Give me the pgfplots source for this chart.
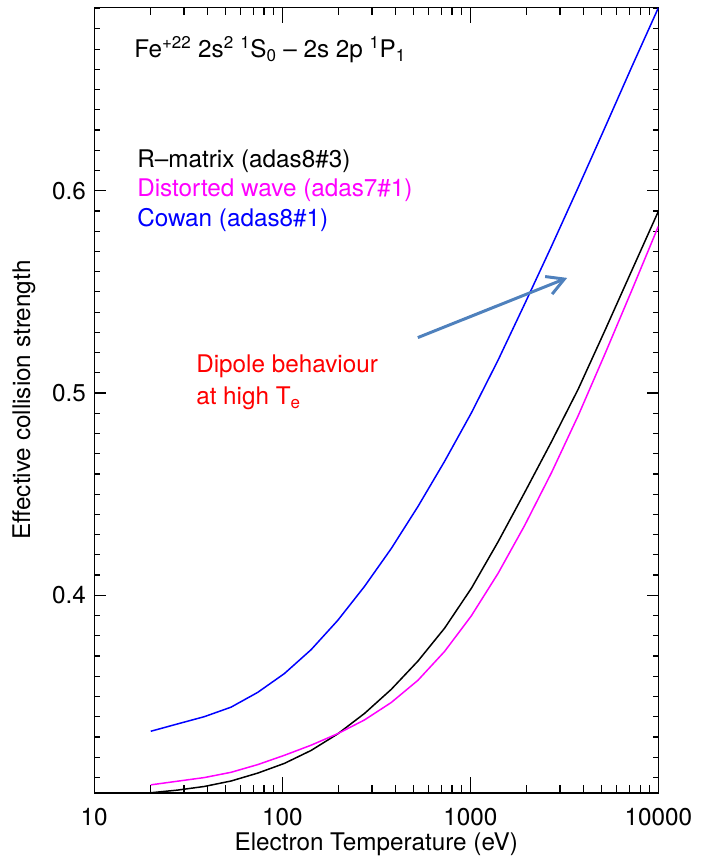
\documentclass[border=0pt]{standalone}
\usepackage{pgfplots}
\pgfplotsset{compat=1.18}
\usepackage{fontspec}
\setmainfont{TeX Gyre Heros}
\usetikzlibrary{arrows.meta}
\definecolor{arrowblue}{RGB}{79,129,189}
\definecolor{magentaline}{RGB}{255,0,255}
\pgfplotstableread{
T      rm      dw      cw
20     0.3024  0.3063  0.3328
27.7   0.3037  0.3081  0.3364
38.5   0.3055  0.3099  0.3400
53.4   0.3082  0.3125  0.3447
74.0   0.3121  0.3163  0.3520
102.6  0.3169  0.3209  0.3613
142.3  0.3233  0.3259  0.3731
197.3  0.3315  0.3316  0.3876
273.8  0.3416  0.3384  0.4044
379.8  0.3535  0.3470  0.4231
526.8  0.3675  0.3580  0.4439
730.7  0.3838  0.3723  0.4663
1013.6 0.4035  0.3899  0.4902
1406   0.4265  0.4109  0.5163
1950   0.4510  0.4347  0.5442
2705   0.4760  0.4607  0.5726
3752   0.5020  0.4889  0.6017
5205   0.5310  0.5194  0.6313
7220   0.5605  0.5507  0.6612
10000  0.5898  0.5824  0.6904
}\datatable
\begin{document}
\fontsize{24.5}{29}\selectfont
\begin{tikzpicture}[font=\fontsize{24.5}{29}\selectfont]
\begin{axis}[
  scale only axis, width=567bp, height=789.7bp,
  xmode=log, log basis x=10,
  xmin=10, xmax=10000, ymin=0.3023, ymax=0.6907,
  xtick={10,100,1000,10000}, xticklabels={10,100,1000,10000},
  minor xtick={20,30,40,50,60,70,80,90,200,300,400,500,600,700,800,900,2000,3000,4000,5000,6000,7000,8000,9000},
  ytick={0.4,0.5,0.6}, yticklabels={0.4,0.5,0.6},
  minor ytick={0.31,0.32,0.33,0.34,0.35,0.36,0.37,0.38,0.39,0.41,0.42,0.43,0.44,0.45,0.46,0.47,0.48,0.49,0.51,0.52,0.53,0.54,0.55,0.56,0.57,0.58,0.59,0.61,0.62,0.63,0.64,0.65,0.66,0.67,0.68,0.69},
  tick align=inside,
  xtick pos=both, ytick pos=both,
  major tick length=13bp, minor tick length=6.5bp,
  xtick style={/pgfplots/major tick length=16bp, /pgfplots/minor tick length=7.7bp},
  ytick style={/pgfplots/major tick length=11.5bp, /pgfplots/minor tick length=5.7bp},
  tick style={line width=1.2bp, black},
  axis line style={line width=1.3bp},
  /pgf/number format/assume math mode=true,
  xticklabel style={yshift=-7bp},
  xlabel={Electron Temperature (eV)},
  xlabel style={at={(axis description cs:0.5,-0.0734)}, anchor=base},
  ylabel={Effective collision strength},
  ylabel style={at={(axis description cs:-0.1247,0.5)}, anchor=center},
]
\addplot[black, line width=1.5bp] table[x=T, y=rm] {\datatable};
\addplot[magentaline, line width=1.5bp] table[x=T, y=dw] {\datatable};
\addplot[blue, line width=1.5bp] table[x=T, y=cw] {\datatable};
\node[anchor=base west, inner sep=0] at (axis cs:16.3,0.6658) {Fe\textsuperscript{+22} 2s\textsuperscript{2} \textsuperscript{1}S\textsubscript{0} -- 2s 2p \textsuperscript{1}P\textsubscript{1}};
\node[anchor=base west, inner sep=0, black] at (axis cs:16.9,0.6117) {R--matrix (adas8\#3)};
\node[anchor=base west, inner sep=0, magentaline] at (axis cs:16.9,0.5970) {Distorted wave (adas7\#1)};
\node[anchor=base west, inner sep=0, blue] at (axis cs:16.9,0.5822) {Cowan (adas8\#1)};
\node[anchor=base west, inner sep=0, red] at (axis cs:34.8,0.5103) {Dipole behaviour};
\node[anchor=base west, inner sep=0, red] at (axis cs:34.8,0.4941) {at high T\textsubscript{e}};
\draw[arrowblue, line width=3bp, -{Straight Barb[length=17bp,width=19bp,line width=3bp]}] (axis cs:526,0.5274) -- (axis cs:3275,0.5569);
\end{axis}
\path (current axis.south west) ++(-94.7bp,-67bp) rectangle ([shift={(39.3bp,7.3bp)}]current axis.north east);
\end{tikzpicture}
\end{document}
